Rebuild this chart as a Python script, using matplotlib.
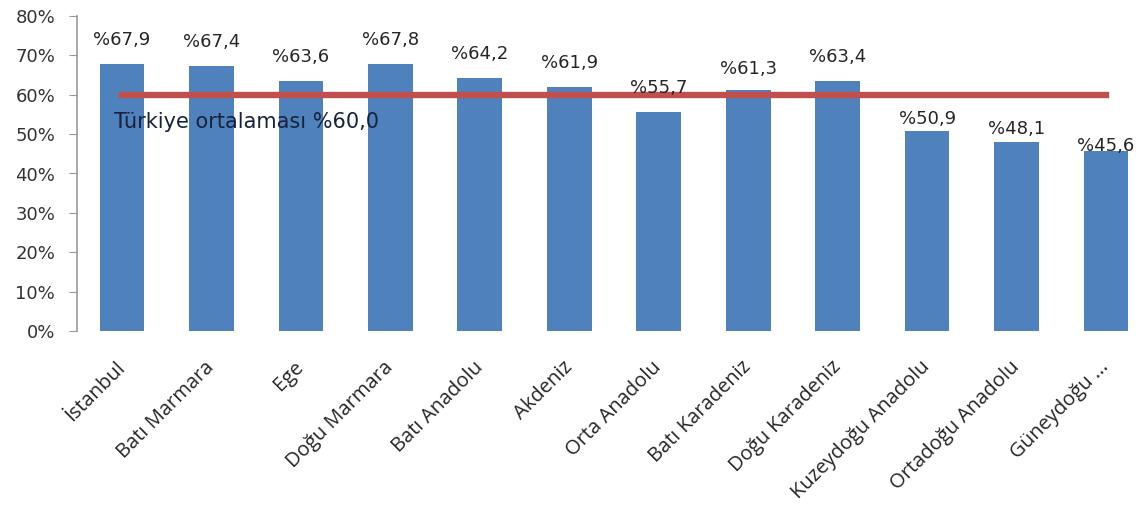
import matplotlib
matplotlib.use("Agg")
import matplotlib.pyplot as plt
import matplotlib.transforms as mtransforms
import numpy as np

categories = ["İstanbul", "Batı Marmara", "Ege", "Doğu Marmara", "Batı Anadolu",
              "Akdeniz", "Orta Anadolu", "Batı Karadeniz", "Doğu Karadeniz",
              "Kuzeydoğu Anadolu", "Ortadoğu Anadolu", "Güneydoğu ..."]
values = [67.9, 67.4, 63.6, 67.8, 64.2, 61.9, 55.7, 61.3, 63.4, 50.9, 48.1, 45.6]
average = [60.0] * len(categories)
yticks = [0, 10, 20, 30, 40, 50, 60, 70, 80]

# label nudges above the bar tops (data units), as placed in the original
label_offsets = [6.1, 6.1, 6.1, 6.1, 6.1, 6.1, 6.1, 5.3, 6.1, 2.9, 3.2, 1.5]

plt.rcParams['font.family'] = ['DejaVu Sans']

fig = plt.figure(figsize=(11.48, 5.11), dpi=100)
ax = fig.add_axes([77.3/1148, 1-331/511, (1150.7-77.3)/1148, (331-16)/511])

x = np.arange(len(categories))
ax.bar(x, values, width=0.5, color='#4F81BD', zorder=2)
ax.plot(x, average, color='#C0504D', linewidth=4.6, zorder=3)

for xi, v, off in zip(x, values, label_offsets):
    ax.text(xi, v + off, "%" + f"{v:.1f}".replace('.', ','), ha='center', va='center',
            fontsize=13, color='#262626', zorder=4)

ax.text(-0.09, 53.1, "Türkiye ortalaması %60,0", fontsize=15, color='#17233D',
        ha='left', va='center', zorder=4)

ax.set_xlim(-0.5, len(categories) - 0.5)
ax.set_ylim(0, 80)
ax.set_yticks(yticks)
ax.set_yticklabels([f"{t}%" for t in yticks], fontsize=13, color='#333333')
ax.set_xticks(x)
ax.set_xticklabels(categories, rotation=45, ha='right', va='center',
                   rotation_mode='anchor', fontsize=14.5, color='#262626',
                   family=['Open Sans', 'DejaVu Sans'])
shift = mtransforms.ScaledTranslation(-0.16, 0, fig.dpi_scale_trans)
for lbl in ax.get_xticklabels():
    lbl.set_transform(lbl.get_transform() + shift)
ax.tick_params(axis='x', length=0, pad=24)
ax.tick_params(axis='y', length=6, color='#999999', direction='out', pad=10)
for s in ['top', 'right', 'bottom']:
    ax.spines[s].set_visible(False)
ax.spines['left'].set_color('#999999')
ax.spines['left'].set_linewidth(1.2)

fig.savefig("out.png", dpi=100)
